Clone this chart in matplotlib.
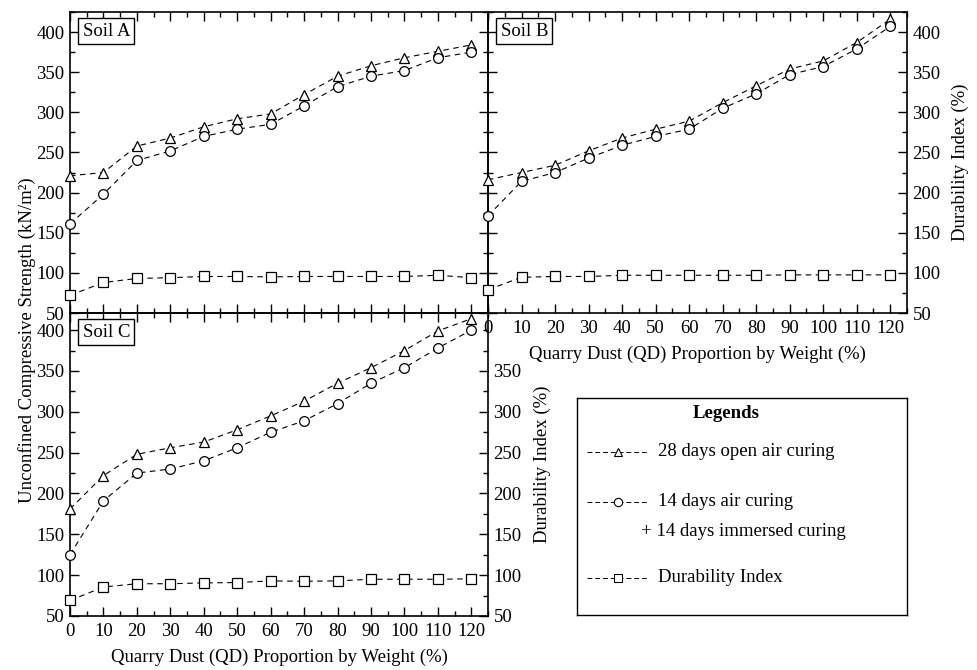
import numpy as np
import matplotlib
matplotlib.use("Agg")
from matplotlib import pyplot as plt
from matplotlib.ticker import MultipleLocator, FixedLocator

plt.rcParams["font.family"] = ["Liberation Serif", "DejaVu Serif"]
plt.rcParams["font.size"] = 13.5

qd = [0, 10, 20, 30, 40, 50, 60, 70, 80, 90, 100, 110, 120]

# Soil A
a_open = [221, 225, 258, 268, 282, 292, 298, 322, 345, 358, 368, 376, 384]
a_imm = [161, 198, 240, 252, 270, 279, 285, 308, 332, 345, 352, 368, 375]
a_di = [72, 88, 93, 94, 95.5, 95.5, 95, 95.5, 95.5, 95.5, 95.5, 97, 94]

# Soil B
b_open = [216, 225, 234, 252, 268, 279, 289, 312, 333, 354, 364, 387, 416]
b_imm = [171, 214, 225, 243, 259, 270, 279, 305, 323, 347, 357, 379, 407]
b_di = [79, 94.5, 95.5, 95.5, 97, 97, 97, 97, 97, 97.5, 97.5, 97.5, 97.5]

# Soil C
c_open = [181, 222, 248, 256, 263, 278, 295, 313, 335, 354, 375, 399, 414]
c_imm = [125, 191, 225, 230, 240, 256, 275, 289, 310, 335, 354, 378, 400]
c_di = [69, 85.5, 89.5, 89.5, 90.5, 91, 93, 92.5, 93, 95, 95, 95, 95.5]

W, H = 978, 670
FS = 13.5
fig = plt.figure(figsize=(W / 100, H / 100), dpi=100)


def box(l, t, r, b):
    return [l / W, 1 - b / H, (r - l) / W, (b - t) / H]


axA = fig.add_axes(box(70, 12, 488, 313))
axB = fig.add_axes(box(488, 12, 907, 313))
axC = fig.add_axes(box(70, 313, 488, 616))

lstyle = dict(color="black", lw=0.8, dashes=(5, 4), mfc="white", mec="black",
              mew=0.9, clip_on=False, zorder=3)


def draw(ax, opn, imm, di, name, ytop):
    ax.set_facecolor("none")
    ax.plot(qd, opn, marker="^", ms=7, **lstyle)
    ax.plot(qd, imm, marker="o", ms=7, **lstyle)
    ax.plot(qd, di, marker="s", ms=6.5, **lstyle)
    ax.set_xlim(0, 125)
    ax.set_ylim(50, ytop)
    ax.xaxis.set_major_locator(MultipleLocator(10))
    ax.xaxis.set_minor_locator(MultipleLocator(5))
    ax.yaxis.set_major_locator(MultipleLocator(50))
    ax.yaxis.set_minor_locator(MultipleLocator(25))
    ax.tick_params(which="both", direction="in", top=True, right=True,
                   width=1.0, labelsize=FS, pad=4)
    ax.tick_params(axis="x", which="both", pad=5)
    ax.tick_params(which="major", length=6.5)
    ax.tick_params(which="minor", length=3.5)
    for s in ax.spines.values():
        s.set_linewidth(1.2)
    ax.text(0.03, 0.965, name, transform=ax.transAxes, ha="left", va="top",
            fontsize=FS, zorder=5,
            bbox=dict(boxstyle="square,pad=0.22", fc="white", ec="black", lw=1))


draw(axA, a_open, a_imm, a_di, "Soil A", 425)
draw(axB, b_open, b_imm, b_di, "Soil B", 425)
draw(axC, c_open, c_imm, c_di, "Soil C", 421)

axA.tick_params(labelbottom=False)

axB.tick_params(labelleft=False, labelright=True)
axB.yaxis.set_label_position("right")
axB.set_ylabel("Durability Index (%)", fontsize=FS, labelpad=8)
axB.set_xlabel("Quarry Dust (QD) Proportion by Weight (%)", fontsize=FS, labelpad=6)
axB.set_xticks(qd)

axC.set_xticks(qd)
axC.set_xlabel("Quarry Dust (QD) Proportion by Weight (%)", fontsize=FS, labelpad=6)

# right axis of Soil C (labels only up to 350)
axC2 = axC.twinx()
axC2.set_ylim(50, 421)
axC2.yaxis.set_major_locator(FixedLocator([50, 100, 150, 200, 250, 300, 350]))
axC2.yaxis.set_minor_locator(MultipleLocator(25))
axC2.tick_params(which="both", direction="in", width=1.0, labelsize=FS, pad=4)
axC2.tick_params(which="major", length=6.5)
axC2.tick_params(which="minor", length=3.5)
for s in axC2.spines.values():
    s.set_visible(False)
axC2.set_ylabel("Durability Index (%)", fontsize=FS, labelpad=9)
axC.tick_params(right=False, which="both")

fig.text(27 / W, 1 - 340 / H, "Unconfined Compressive Strength (kN/m²)",
         rotation=90, ha="center", va="center", fontsize=FS)

# legend box
axL = fig.add_axes(box(577, 398, 907, 615))
axL.set_xlim(0, 330)
axL.set_ylim(217, 0)
axL.set_xticks([])
axL.set_yticks([])
for s in axL.spines.values():
    s.set_linewidth(1.0)
axL.text(149, 15, "Legends", ha="center", va="center", fontsize=FS, fontweight="bold")
entries = [("^", 54, "28 days open air curing"),
           ("o", 104, "14 days air curing"),
           ("s", 180, "Durability Index")]
for mk, yy, lab in entries:
    axL.plot([10, 70], [yy, yy], color="black", lw=0.7, dashes=(5, 3), zorder=2)
    axL.plot([41], [yy], marker=mk, ms=6, mfc="white", mec="black", mew=0.8,
             ls="none", zorder=3)
    axL.text(81, yy, lab, ha="left", va="center", fontsize=FS)
axL.text(64, 134, "+ 14 days immersed curing", ha="left", va="center", fontsize=FS)

fig.savefig("out.png", dpi=100)
